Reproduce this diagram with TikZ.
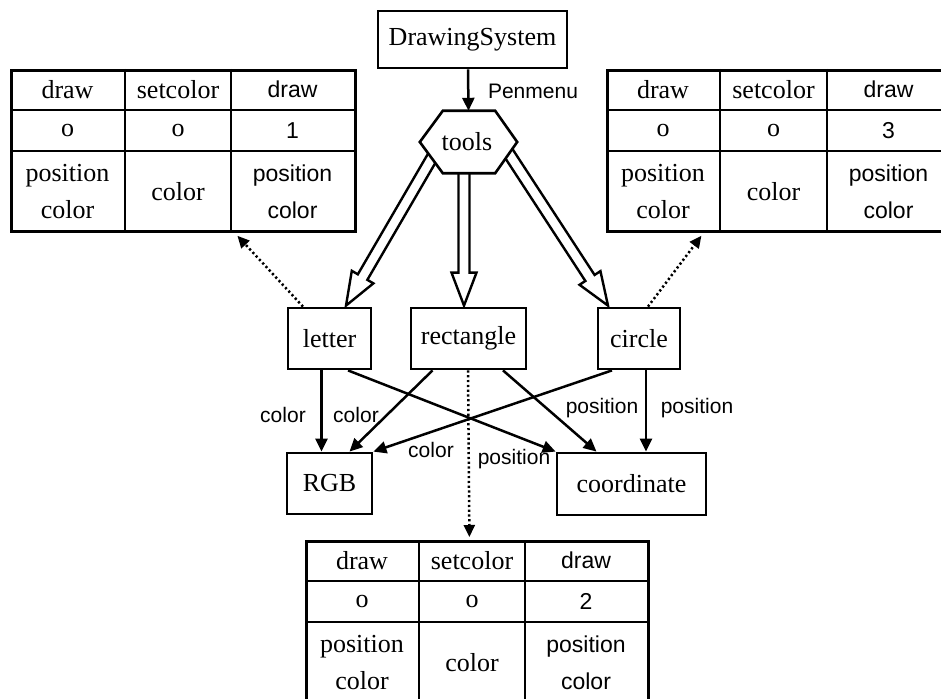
\documentclass[tikz,border=0pt]{standalone}
\usepackage{fontspec}
\newfontfamily\labelsans{Liberation Sans}
\newfontfamily\boxserif{Liberation Serif}
\usetikzlibrary{arrows.meta,calc}
\tikzset{
  box/.style={draw, line width=2.8pt, inner sep=0pt, font=\boxserif\fontsize{26}{30}\selectfont},
  serift/.style={inner sep=0pt, align=center, font=\boxserif\fontsize{26}{37}\selectfont},
  sanst/.style={inner sep=0pt, align=center, font=\labelsans\fontsize{23}{37}\selectfont},
  lbl/.style={inner sep=0pt, font=\labelsans\fontsize{21}{24}\selectfont},
  arr/.style={line width=2.5pt, -{Triangle[length=13pt,width=12pt]}},
  dotarr/.style={line width=2.5pt, dash pattern=on 2.2pt off 2.6pt, -{Triangle[length=12pt,width=11pt]}},
  hollow/.style={line width=2.4pt, line join=miter},
  thinl/.style={line width=1.4pt},
  thickl/.style={line width=2.8pt},
  tblbox/.style={draw, line width=2.8pt, inner sep=0pt},
}
% #1 name, #2 x0, #3 x1, #4 x2, #5 x3, #6 y0, #7 digit
\newcommand\infotable[7]{%
  \draw[thinl] (#2,#6+41) -- (#5,#6+41) (#2,#6+82) -- (#5,#6+82) (#3,#6) -- (#3,#6+161);
  \draw[thickl] (#4,#6) -- (#4,#6+161);
  \node[tblbox, minimum width=#5pt-#2pt, minimum height=161pt, anchor=north west] (#1) at (#2,#6) {};
  \node[serift] (#1-a1) at ({(#2+#3)/2},#6+20.5) {draw};
  \node[serift] (#1-b1) at ({(#3+#4)/2},#6+20.5) {setcolor};
  \node[sanst]  (#1-c1) at ({(#4+#5)/2},#6+20.5) {draw};
  \node[serift] (#1-a2) at ({(#2+#3)/2},#6+61.5) {o};
  \node[serift] (#1-b2) at ({(#3+#4)/2},#6+61.5) {o};
  \node[sanst]  (#1-c2) at ({(#4+#5)/2},#6+61.5) {#7};
  \node[serift] (#1-a3) at ({(#2+#3)/2},#6+123) {position\\color};
  \node[serift] (#1-b3) at ({(#3+#4)/2},#6+123) {color};
  \node[sanst]  (#1-c3) at ({(#4+#5)/2},#6+123) {position\\color};
}
\newcommand\hollowarrow[2]{%
  \draw[hollow] ($(#1)!5.5pt!90:(#2)$) -- ($(#2)!33pt!(#1)!5.5pt!-90:(#1)$)
    -- ($(#2)!33pt!(#1)!12.5pt!-90:(#1)$) -- (#2)
    -- ($(#2)!33pt!(#1)!12.5pt!90:(#1)$) -- ($(#2)!33pt!(#1)!5.5pt!90:(#1)$)
    -- ($(#1)!5.5pt!-90:(#2)$);
}
\begin{document}
\begin{tikzpicture}[x=1pt,y=-1pt]
\useasboundingbox (0,0) rectangle (941,698);
\clip (0,0) rectangle (941,698);

% tables
\infotable{tl}{10}{125}{231}{354}{69}{1}
\infotable{tr}{606}{720}{827}{950}{69}{3}
\infotable{tb}{305}{419}{525}{647}{540}{2}

% main nodes
\node[box, minimum width=189pt, minimum height=57pt] (DS) at (472.5,39.5) {DrawingSystem};
\node[inner sep=0pt, minimum width=97pt, minimum height=62pt] (tools) at (468.5,142) {};
\node[box, minimum width=83pt, minimum height=61pt] (letter) at (329.5,338.5) {letter};
\node[box, minimum width=115pt, minimum height=61pt] (rect) at (468.5,338.5) {rectangle};
\node[box, minimum width=82pt, minimum height=61pt] (circle) at (639,338.5) {circle};
\node[box, minimum width=85pt, minimum height=61pt] (RGB) at (329.5,483.5) {RGB};
\node[box, minimum width=149pt, minimum height=62pt] (coord) at (631.5,484) {coordinate};

% hollow arrows from tools
\coordinate (hs1) at ($(tools.center)+(-28.5,2)$);
\coordinate (hs2) at ($(tools.center)+(-4.5,8)$);
\coordinate (hs3) at ($(tools.center)+(31.5,-2)$);
\coordinate (he1) at ([xshift=16.5pt,yshift=1pt]letter.north);
\coordinate (he2) at ([xshift=-4.5pt,yshift=1pt]rect.north);
\coordinate (he3) at ([xshift=-31pt,yshift=1pt]circle.north);
\hollowarrow{hs1}{he1}
\hollowarrow{hs2}{he2}
\hollowarrow{hs3}{he3}

% hexagon
\draw[line width=2.6pt, fill=white] (tools.west) -- ([xshift=23pt]tools.north west)
  -- ([xshift=-22pt]tools.north east) -- (tools.east)
  -- ([xshift=-22pt]tools.south east) -- ([xshift=23pt]tools.south west) -- cycle;
\node[serift] (toolstext) at (467,142) {tools};

% DS -> tools
\draw[arr] ([xshift=-4.5pt]DS.south) -- (tools.north);
\node[lbl] (pm) at (533,91) {Penmenu};

% solid arrows
\draw[arr] ([xshift=-8pt]letter.south) -- ([xshift=-8pt]RGB.north);
\draw[arr] ([xshift=-36pt]rect.south) -- ([xshift=20pt]RGB.north);
\draw[arr] ([xshift=-27pt]circle.south) -- (RGB.north east);
\draw[arr] ([xshift=18.5pt]letter.south) -- (coord.north west);
\draw[arr] ([xshift=34.5pt]rect.south) -- ([xshift=-35pt]coord.north);
\draw[arr] ([xshift=7pt]circle.south) -- ([xshift=14.5pt]coord.north);

% labels
\node[lbl] (l1) at (283,415) {color};
\node[lbl] (l2) at (356,415) {color};
\node[lbl] (l3) at (431,450) {color};
\node[lbl] (l4) at (514,459) {position};
\node[lbl] (l5) at (602,408) {position};
\node[lbl] (l6) at (697,408) {position};

% dotted arrows
\draw[dotarr] ([xshift=-26.5pt]letter.north) -- ([xshift=54pt,yshift=-3pt]tl.south);
\draw[dotarr] ([xshift=9pt]circle.north) -- ([xshift=-78pt,yshift=-3pt]tr.south);
\draw[dotarr] ([xshift=-0.5pt]rect.south) -- ([xshift=-8pt,yshift=3pt]tb.north);
\end{tikzpicture}
\end{document}
